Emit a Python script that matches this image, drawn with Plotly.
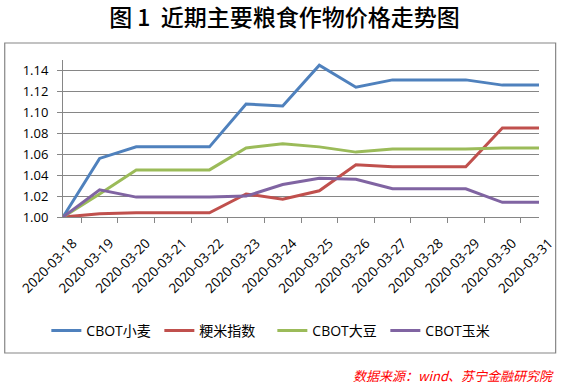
import plotly.graph_objects as go

dates = ["2020-03-18", "2020-03-19", "2020-03-20", "2020-03-21", "2020-03-22",
         "2020-03-23", "2020-03-24", "2020-03-25", "2020-03-26", "2020-03-27",
         "2020-03-28", "2020-03-29", "2020-03-30", "2020-03-31"]
wheat = [1.000, 1.056, 1.067, 1.067, 1.067, 1.108, 1.106, 1.145, 1.124, 1.131, 1.131, 1.131, 1.126, 1.126]
rice = [1.000, 1.003, 1.004, 1.004, 1.004, 1.022, 1.017, 1.025, 1.050, 1.048, 1.048, 1.048, 1.085, 1.085]
soy = [1.000, 1.022, 1.045, 1.045, 1.045, 1.066, 1.070, 1.067, 1.062, 1.065, 1.065, 1.065, 1.066, 1.066]
corn = [1.000, 1.026, 1.019, 1.019, 1.019, 1.020, 1.031, 1.037, 1.036, 1.027, 1.027, 1.027, 1.014, 1.014]

names = ["CBOT小麦", "粳米指数", "CBOT大豆", "CBOT玉米"]
series = [wheat, rice, soy, corn]
colors = ["#4F81BD", "#C0504D", "#9BBB59", "#8064A2"]

W, H = 569, 385
L, R, T, B = 63, 20, 60, 168
pw, ph = W - L - R, H - T - B


def px(x):
    return (x - L) / pw


def py(y):
    return (H - B - y) / ph


fig = go.Figure()
for n, s, c in zip(names, series, colors):
    fig.add_trace(go.Scatter(x=dates, y=s, name=n, mode="lines",
                             line=dict(color=c, width=3)))

fig.update_layout(
    width=W, height=H,
    margin=dict(l=L, r=R, t=T, b=B),
    paper_bgcolor="white", plot_bgcolor="white",
    font=dict(family="Open Sans, Noto Sans CJK SC", size=13, color="black"),
    title=dict(text="图 1  近期主要粮食作物价格走势图",
               x=0.5, xanchor="center", y=1 - 18 / H, yanchor="middle",
               font=dict(family="Noto Sans CJK SC", size=23, color="black", weight=500)),
    showlegend=True,
    legend=dict(orientation="h", x=px(46), xanchor="left", y=py(331), yanchor="middle",
                font=dict(family="Open Sans, Noto Sans CJK SC", size=14),
                entrywidth=68, entrywidthmode="pixels", bgcolor="rgba(0,0,0,0)"),
    xaxis=dict(type="category", tickson="boundaries", ticks="outside", ticklen=5,
               tickcolor="#868686", showline=True, linecolor="#868686", linewidth=1,
               showgrid=False, tickangle=-45, ticklabelstandoff=12, ticklabelshift=10,
               tickfont=dict(family="Open Sans", size=13.5)),
    yaxis=dict(range=[1.0, 1.15], dtick=0.02, tick0=1.0, tickformat=".2f",
               ticks="outside", ticklen=5, tickcolor="#868686",
               showline=True, linecolor="#868686", linewidth=1,
               showgrid=True, gridcolor="#868686", gridwidth=1,
               zeroline=False, ticklabelstandoff=6,
               tickfont=dict(family="Open Sans", size=13)),
    shapes=[dict(type="rect", xref="paper", yref="paper",
                 x0=px(3.5), x1=px(566), y0=py(353), y1=py(43),
                 line=dict(color="#868686", width=1.2), layer="above")],
    annotations=[dict(text="数据来源：wind、苏宁金融研究院", xref="paper", yref="paper",
                      x=px(566), y=py(375), xanchor="right", yanchor="middle",
                      showarrow=False,
                      font=dict(family="Noto Sans CJK SC", size=13, color="#FF0000",
                                style="italic"))],
)

fig.write_html("out.html", config={"displayModeBar": False},
               post_script="document.body.style.margin='0';")
